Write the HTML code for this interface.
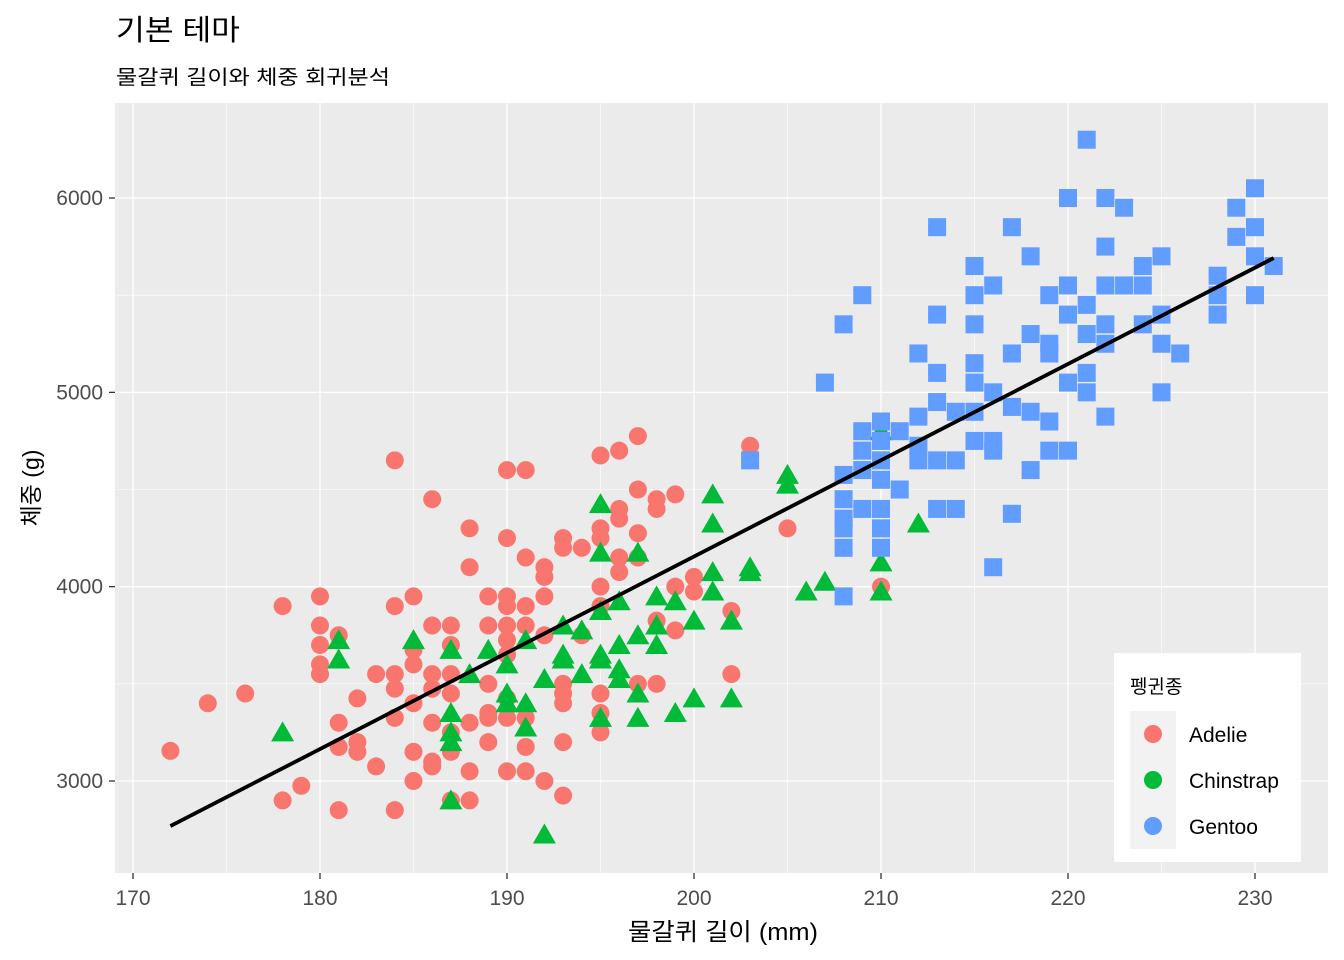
<!DOCTYPE html>
<html><head><meta charset="utf-8">
<style>
body{margin:0;background:#fff;}
svg{display:block;font-family:"Liberation Sans","Noto Sans CJK KR",sans-serif;}
</style></head>
<body>
<svg id="chart" width="1344" height="960">
<text x="116" y="40" font-size="29" textLength="124" lengthAdjust="spacingAndGlyphs" fill="#000">기본 테마</text>
<text x="116" y="84" font-size="20" textLength="274" lengthAdjust="spacingAndGlyphs" fill="#000">물갈퀴 길이와 체중 회귀분석</text>
<rect x="115" y="103" width="1213" height="770" fill="#EBEBEB"/>
<g id="grid"></g>
<g id="points"></g>
<g id="axes"></g>
<text x="628" y="940" font-size="24" textLength="190" lengthAdjust="spacingAndGlyphs" fill="#000">물갈퀴 길이 (mm)</text>
<text transform="translate(39,488) rotate(-90)" font-size="23" text-anchor="middle" fill="#000">체중 (g)</text>
<g>
<rect x="1114" y="653" width="187" height="209" fill="#fff"/>
<text x="1130" y="693" font-size="19" fill="#000">펭귄종</text>
<g id="legend-keys"></g>
</g>
</svg>
<script>
const xTicks=[170,180,190,200,210,220,230];
const yTicks=[3000,4000,5000,6000];
const species=["Adelie","Chinstrap","Gentoo"];
const colors=["#F8766D","#00BA38","#619CFF"];
const adelieX=[172,174,176,178,178,179,180,180,180,180,180,181,181,181,181,182,182,182,183,183,184,184,184,184,184,184,185,185,185,185,185,185,186,186,186,186,186,186,186,187,187,187,187,187,187,187,188,188,188,188,188,189,189,189,189,189,189,190,190,190,190,190,190,190,190,190,190,191,191,191,191,191,191,191,192,192,192,192,192,193,193,193,193,193,193,193,194,194,195,195,195,195,195,195,195,195,196,196,196,196,196,197,197,197,197,197,198,198,198,198,199,199,199,200,200,202,202,203,205,210];
const adelieY=[3155,3400,3450,3900,2900,2975,3950,3800,3700,3600,3550,3300,3750,2850,3175,3425,3200,3150,3550,3075,4650,3900,3550,3475,3325,2850,3950,3600,3675,3400,3150,3000,4450,3800,3550,3475,3300,3075,3100,3800,3700,3550,3450,3250,3150,2900,4300,4100,3300,3050,2900,3950,3800,3500,3350,3325,3200,4600,4250,3950,3900,3800,3725,3650,3425,3325,3050,4600,4150,3900,3800,3325,3175,3050,4100,4050,3950,3750,3000,4250,4200,3500,3450,3400,3200,2925,4200,3750,4675,4300,4250,4000,3900,3450,3350,3250,4700,4400,4350,4150,4075,4775,4500,4275,4150,3500,4450,4400,3825,3500,4475,4000,3775,4050,3975,3875,3550,4725,4300,4000];
const chinX=[178,181,181,185,187,187,187,187,187,188,189,190,190,190,191,191,191,192,192,193,193,193,194,194,195,195,195,195,195,195,196,196,196,196,197,197,197,197,198,198,198,199,199,200,200,201,201,201,201,202,202,203,203,205,205,206,207,210,210,210,212];
const chinY=[3250,3725,3625,3725,3675,3350,3250,3200,2900,3550,3675,3600,3450,3400,3725,3400,3275,2725,3525,3800,3650,3625,3775,3550,4425,4175,3875,3650,3625,3325,3925,3700,3575,3525,4175,3750,3450,3325,3950,3800,3700,3925,3350,3825,3425,4475,4325,4075,3975,3825,3425,4100,4075,4575,4525,3975,4025,4800,4125,3975,4325];
const gentooX=[203,207,208,208,208,208,208,208,208,209,209,209,209,209,210,210,210,210,210,210,210,211,211,212,212,212,212,213,213,213,213,213,213,214,214,214,215,215,215,215,215,215,215,216,216,216,216,216,217,217,217,217,218,218,218,218,219,219,219,219,219,220,220,220,220,220,221,221,221,221,221,222,222,222,222,222,222,223,223,224,224,224,225,225,225,225,226,228,228,228,229,229,230,230,230,230,231];
const gentooY=[4650,5050,5350,4575,4450,4350,4300,4200,3950,5500,4800,4700,4600,4400,4850,4750,4650,4550,4400,4300,4200,4800,4500,5200,4875,4725,4650,5850,5400,5100,4950,4650,4400,4900,4650,4400,5650,5500,5350,5150,5050,4900,4750,5550,5000,4750,4700,4100,5850,5200,4925,4375,5700,5300,4900,4600,5500,5250,5200,4850,4700,6000,5550,5400,5050,4700,6300,5450,5300,5100,5000,6000,5750,5550,5350,5250,4875,5950,5550,5650,5550,5350,5700,5400,5250,5000,5200,5600,5500,5400,5950,5800,6050,5850,5700,5500,5650];
const fitX=[172,231];
const fitY=[2768,5691];

const NS="http://www.w3.org/2000/svg";
const sx=v=>133+(v-170)*18.7;
const sy=v=>781-(v-3000)*0.19433;
function mk(tag,attrs,parent){const e=document.createElementNS(NS,tag);for(const k in attrs)e.setAttribute(k,attrs[k]);parent.appendChild(e);return e;}
const grid=document.getElementById('grid'),axes=document.getElementById('axes'),pts=document.getElementById('points');
for(let i=0;i<xTicks.length-1;i++){const v=(xTicks[i]+xTicks[i+1])/2;const l=mk('line',{x1:sx(v),x2:sx(v),y1:103,y2:873,stroke:'#fff','stroke-width':0.6},grid);

}
for(const v of [2500,3500,4500,5500]){const l=mk('line',{x1:115,x2:1328,y1:sy(v),y2:sy(v),stroke:'#fff','stroke-width':0.6},grid);

}
xTicks.forEach(v=>{const l=mk('line',{x1:sx(v),x2:sx(v),y1:103,y2:873,stroke:'#fff','stroke-width':1.3},grid);


const t=mk('line',{x1:sx(v),x2:sx(v),y1:873,y2:879,stroke:'#333','stroke-width':1.3},axes);


const tx=mk('text',{x:sx(v),y:905,'font-size':21,'text-anchor':'middle',fill:'#4D4D4D'},axes);tx.textContent=v;

});
yTicks.forEach(v=>{const l=mk('line',{x1:115,x2:1328,y1:sy(v),y2:sy(v),stroke:'#fff','stroke-width':1.3},grid);


const t=mk('line',{x1:109,x2:115,y1:sy(v),y2:sy(v),stroke:'#333','stroke-width':1.3},axes);


const tx=mk('text',{x:103,y:sy(v)+7,'font-size':21,'text-anchor':'end',fill:'#4D4D4D'},axes);tx.textContent=v;

});
function shape(kind,cx,cy,col,parent){
 if(kind===0)return mk('circle',{cx:cx,cy:cy,r:9,fill:col},parent);
 if(kind===1)return mk('polygon',{points:`${cx},${cy-11} ${cx-11.5},${cy+9} ${cx+11.5},${cy+9}`,fill:col},parent);
 return mk('rect',{x:cx-9,y:cy-9,width:18,height:18,fill:col},parent);
}
[[adelieX,adelieY],[chinX,chinY],[gentooX,gentooY]].forEach((d,k)=>{
 d[0].forEach((x,i)=>{const p=shape(k,sx(x),sy(d[1][i]),colors[k],pts);
 
 });
});
const fl=mk('line',{x1:sx(fitX[0]),y1:sy(fitY[0]),x2:sx(fitX[1]),y2:sy(fitY[1]),stroke:'#000','stroke-width':3.8},pts);


const lk=document.getElementById('legend-keys');
species.forEach((s,k)=>{const y=711+k*46;
 const r=mk('rect',{x:1130,y:y,width:46,height:46,fill:'#F2F2F2'},lk);
 
 
 const c=mk('circle',{cx:1153,cy:y+23,r:9,fill:colors[k]},lk);
 
 
 const t=mk('text',{x:1189,y:y+31,'font-size':21,fill:'#000'},lk);t.textContent=s;
 
 
});
</script>
</body></html>
